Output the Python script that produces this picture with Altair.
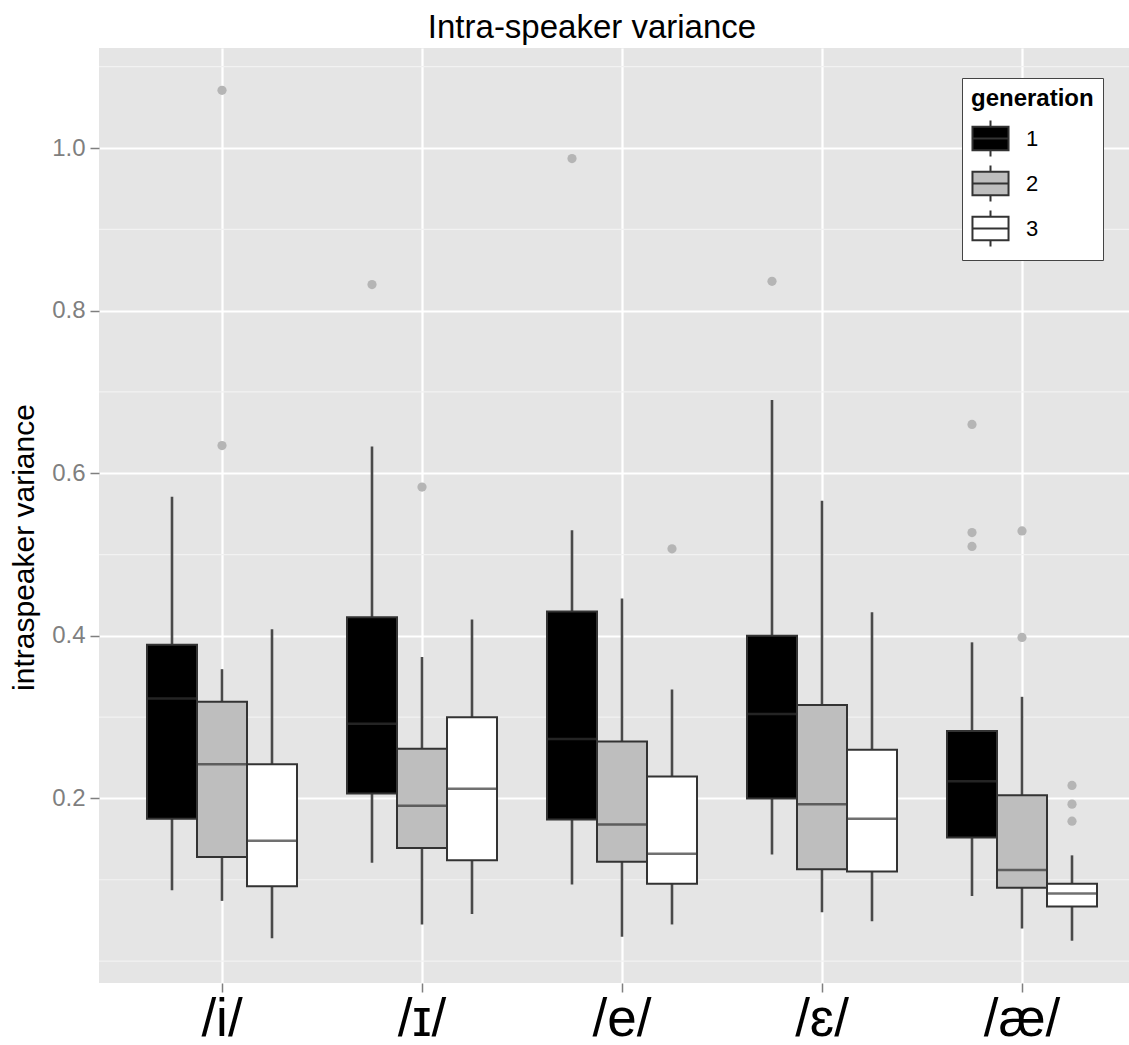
import altair as alt
import pandas as pd

# Vowel categories and generations
vowels = ["/i/", "/ɪ/", "/e/", "/ɛ/", "/æ/"]
generations = ["1", "2", "3"]

# Box summaries per generation, one value per vowel
lower = {
    "1": [0.087, 0.121, 0.094, 0.131, 0.080],
    "2": [0.074, 0.045, 0.030, 0.060, 0.040],
    "3": [0.028, 0.058, 0.045, 0.049, 0.025],
}
q1 = {
    "1": [0.175, 0.206, 0.174, 0.200, 0.152],
    "2": [0.128, 0.139, 0.122, 0.113, 0.090],
    "3": [0.092, 0.124, 0.095, 0.110, 0.067],
}
median = {
    "1": [0.323, 0.292, 0.273, 0.304, 0.221],
    "2": [0.242, 0.191, 0.168, 0.193, 0.112],
    "3": [0.148, 0.212, 0.132, 0.175, 0.083],
}
q3 = {
    "1": [0.389, 0.423, 0.430, 0.400, 0.283],
    "2": [0.319, 0.261, 0.270, 0.315, 0.204],
    "3": [0.242, 0.300, 0.227, 0.260, 0.095],
}
upper = {
    "1": [0.571, 0.633, 0.530, 0.690, 0.392],
    "2": [0.359, 0.374, 0.446, 0.566, 0.325],
    "3": [0.408, 0.420, 0.334, 0.429, 0.130],
}

# Outlying speakers: (vowel, generation, value)
outlier_vowel = ["/i/", "/i/", "/ɪ/", "/ɪ/", "/e/", "/e/", "/ɛ/",
                 "/æ/", "/æ/", "/æ/", "/æ/", "/æ/", "/æ/", "/æ/", "/æ/"]
outlier_gen = ["2", "2", "1", "2", "1", "3", "1",
               "1", "1", "1", "2", "2", "3", "3", "3"]
outlier_val = [1.071, 0.634, 0.832, 0.583, 0.987, 0.507, 0.836,
               0.660, 0.527, 0.510, 0.529, 0.398, 0.216, 0.193, 0.172]

major_breaks = [0.2, 0.4, 0.6, 0.8, 1.0]
minor_breaks = [0.0, 0.1, 0.3, 0.5, 0.7, 0.9, 1.1]

fills = ["#000000", "#BEBEBE", "#FFFFFF"]

rows = []
for g in generations:
    for i, v in enumerate(vowels):
        rows.append({
            "vowel": v, "generation": g,
            "lower": lower[g][i], "q1": q1[g][i], "median": median[g][i],
            "q3": q3[g][i], "upper": upper[g][i],
        })
boxes = pd.DataFrame(rows)
outliers = pd.DataFrame({"vowel": outlier_vowel, "generation": outlier_gen,
                         "value": outlier_val})
minor = pd.DataFrame({"v": minor_breaks})

y_scale = alt.Scale(domain=[-0.027, 1.123], nice=False, zero=False)
x_scale = alt.Scale(domain=vowels, paddingInner=0.25, paddingOuter=0.2, align=0.6)
x_axis = alt.Axis(
    title=None, labelFontSize=53, labelColor="#000000", labelFont="Liberation Sans",
    labelPadding=1, tickSize=9, tickColor="#7F7F7F", tickWidth=1.5,
    domain=False, grid=True, gridColor="#FFFFFF", gridWidth=2.2, bandPosition=0.5,
    labelAngle=0,
)
y_axis = alt.Axis(
    title="intraspeaker variance", values=major_breaks, format=".1f",
    labelFontSize=24, labelColor="#7F7F7F", labelFont="Liberation Sans", labelPadding=5,
    tickSize=9, tickColor="#7F7F7F", tickWidth=1.5, domain=False,
    grid=True, gridColor="#FFFFFF", gridWidth=2.2,
    titleFontSize=30, titleFont="Liberation Sans", titleFontWeight="normal",
    titleColor="#000000", titleAngle=270, titleAlign="center", titleBaseline="middle",
    titleX=-75, titleY=499,
)

x_enc = alt.X("vowel:N", scale=x_scale, axis=x_axis, sort=vowels)
xoff = alt.XOffset("generation:N", sort=generations)

grid_minor = alt.Chart(minor).mark_rule(color="#F2F2F2", strokeWidth=1.2).encode(
    y=alt.Y("v:Q", scale=y_scale, axis=y_axis)
)

base = alt.Chart(boxes)

whiskers = base.mark_rule(color="#4A4A4A", strokeWidth=2.6).encode(
    x=x_enc, xOffset=xoff,
    y=alt.Y("lower:Q", scale=y_scale, axis=y_axis),
    y2="upper:Q",
)

box = base.mark_bar(stroke="#333333", strokeWidth=2).encode(
    x=x_enc, xOffset=xoff,
    y=alt.Y("q1:Q", scale=y_scale, axis=y_axis),
    y2="q3:Q",
    fill=alt.Fill(
        "generation:N",
        scale=alt.Scale(domain=generations, range=fills),
        legend=alt.Legend(
            title="generation", orient="none", legendX=863, legendY=30,
            titleFontSize=24, titleFontWeight="bold", titleFont="Liberation Sans",
            titleColor="#000000", titlePadding=8,
            labelFontSize=22, labelFont="Liberation Sans", labelColor="#000000",
            labelOffset=16,
            symbolType="M-1,-0.65H1V0.65H-1Z M0,-0.65V-1 M0,0.65V1 M-1,0H1",
            symbolSize=1300, symbolStrokeColor="#333333", symbolStrokeWidth=2,
            symbolOpacity=1, rowPadding=0, padding=9,
            fillColor="#FFFFFF", strokeColor="#444444", cornerRadius=0,
        ),
    ),
)

medians = base.mark_tick(color="#333333", thickness=2.5, size=50).encode(
    x=x_enc, xOffset=xoff,
    y=alt.Y("median:Q", scale=y_scale, axis=y_axis),
)

points = alt.Chart(outliers).mark_point(
    filled=True, color="#B5B5B5", size=85, opacity=1
).encode(
    x=x_enc, xOffset=xoff,
    y=alt.Y("value:Q", scale=y_scale, axis=y_axis),
)

chart = alt.layer(grid_minor, whiskers, box, medians, points).properties(
    width=1030, height=935,
    title=alt.TitleParams(
        "Intra-speaker variance", fontSize=33, font="Liberation Sans",
        fontWeight="normal", color="#000000", anchor="middle", offset=3, dx=-22,
    ),
    padding={"left": 99, "top": 48, "right": 0, "bottom": 62},
    autosize=alt.AutoSizeParams(type="none"),
).configure(
    background="#FFFFFF"
).configure_view(
    fill="#E5E5E5", stroke=None
)

chart.save("out.html", embed_options={"renderer": "svg", "actions": False})
